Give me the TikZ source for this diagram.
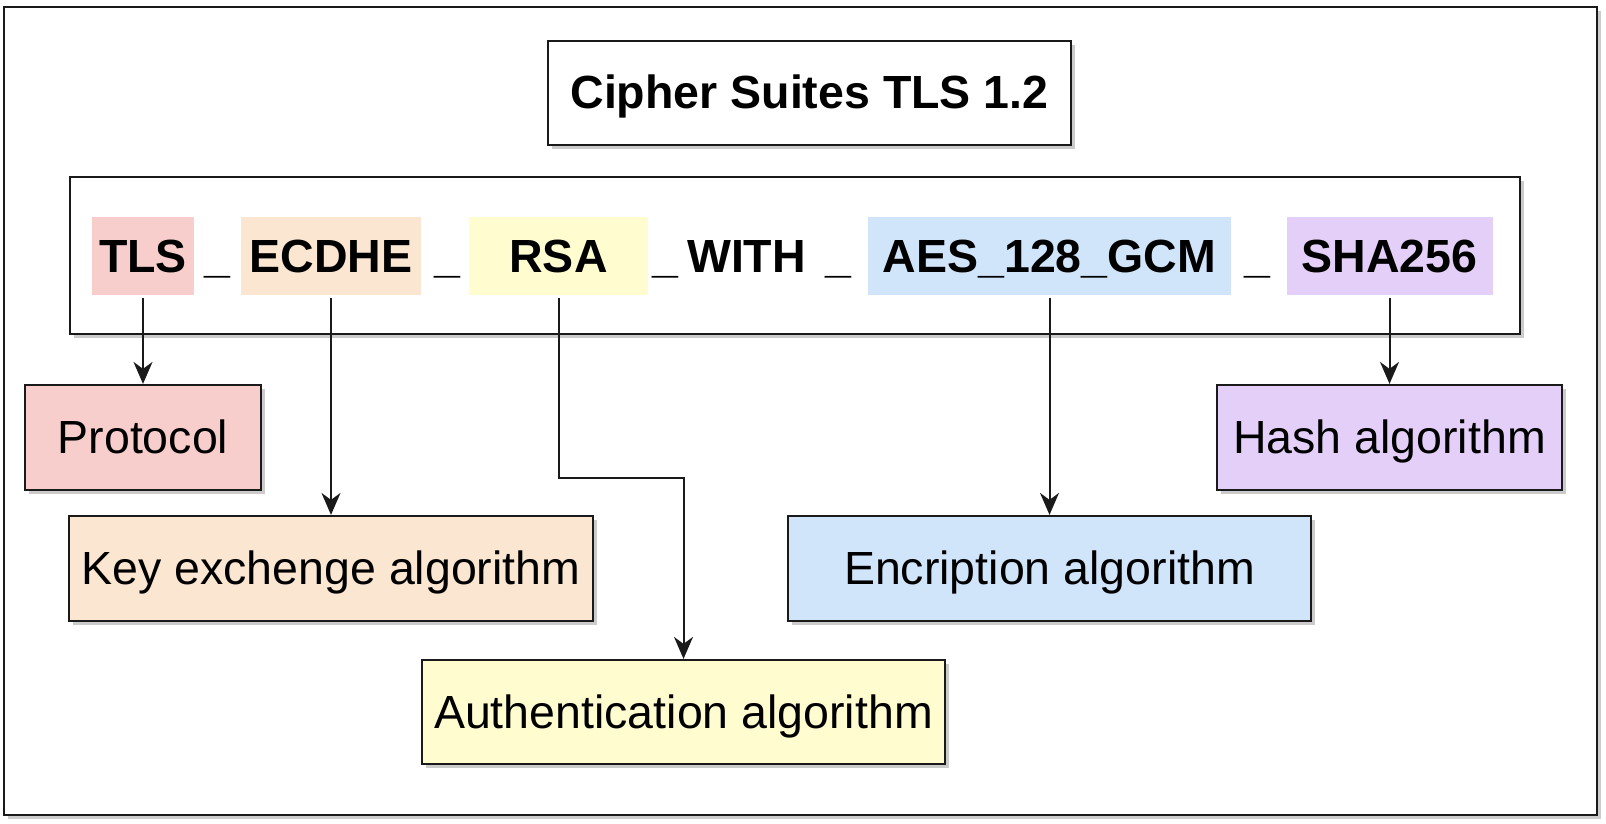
\documentclass[tikz,border=0pt]{standalone}
\usepackage{fontspec}
\setmainfont{Liberation Sans}
\usetikzlibrary{arrows.meta,shadows}
\definecolor{cpink}{HTML}{F8CECC}
\definecolor{cpeach}{HTML}{FBE6D1}
\definecolor{cyellow}{HTML}{FFFDD0}
\definecolor{cblue}{HTML}{D0E4FA}
\definecolor{cpurple}{HTML}{E3CFF7}
\definecolor{cline}{HTML}{1A1A1A}
\begin{document}
\begin{tikzpicture}[x=1pt,y=-1pt,
  shad/.style={drop shadow={shadow xshift=4pt,shadow yshift=-4pt,fill=black!25,opacity=0.8}},
  box/.style={draw=cline,line width=2.2pt,rectangle,inner sep=0pt,align=center,text height=36pt,text depth=4pt,font=\fontsize{46.5}{56}\selectfont,shad},
  hl/.style={rectangle,inner sep=0pt,minimum height=78pt,text height=36pt,text depth=4pt,font=\fontsize{46.5}{56}\selectfont\bfseries},
  sepr/.style={inner sep=0pt,anchor=base,font=\fontsize{46.5}{56}\selectfont\bfseries},
  arr/.style={draw=cline,line width=2pt,-{Stealth[length=22pt,width=19pt,inset=7pt]}},
]
\useasboundingbox (0,0) rectangle (1606,824);
% outer frame
\node[box,fill=white,minimum width=1593pt,minimum height=808pt] (frame) at (800.5,411) {};
% title
\node[box,fill=white,minimum width=523pt,minimum height=104pt,font=\fontsize{46.5}{56}\selectfont\bfseries] (title) at (809.5,93) {Cipher Suites TLS 1.2};
% container
\node[box,fill=white,minimum width=1450pt,minimum height=157pt] (cont) at (795,255.5) {};
% highlighted parts
\node[hl,fill=cpink,minimum width=102pt] (tls) at (143,256) {TLS};
\node[hl,fill=cpeach,minimum width=180pt] (ecdhe) at (331,256) {ECDHE};
\node[hl,fill=cyellow,minimum width=179pt] (rsa) at (558.5,256) {RSA};
\node[hl,fill=cblue,minimum width=363pt] (aes) at (1049.5,256) {AES\_128\_GCM};
\node[hl,fill=cpurple,minimum width=206pt] (sha) at (1389.5,256) {SHA256};
% separators
\node[sepr] (s1) at (217.5,272) {\_};
\node[sepr] (s2) at (447,272) {\_};
\node[sepr] (s3) at (665.5,272) {\_};
\node[sepr] (with) at (746.5,272) {WITH};
\node[sepr] (s4) at (838.5,272) {\_};
\node[sepr] (s5) at (1257,272) {\_};
% meaning boxes
\node[box,fill=cpink,minimum width=236pt,minimum height=105pt] (proto) at (143,437.5) {Protocol};
\node[box,fill=cpeach,minimum width=524pt,minimum height=105pt] (key) at (331,568.5) {Key exchenge algorithm};
\node[box,fill=cyellow,minimum width=523pt,minimum height=104pt] (auth) at (683.5,712) {Authentication algorithm};
\node[box,fill=cblue,minimum width=523pt,minimum height=105pt] (enc) at (1049.5,568.5) {Encription algorithm};
\node[box,fill=cpurple,minimum width=345pt,minimum height=105pt] (hash) at (1389.5,437.5) {Hash algorithm};
% connectors
\coordinate (bend) at (620,478);
\draw[arr,shorten <=3pt] (tls.south) -- (proto.north);
\draw[arr,shorten <=3pt] (ecdhe.south) -- (key.north);
\draw[arr,shorten <=3pt] (rsa.south) |- (bend) -| (auth.north);
\draw[arr,shorten <=3pt] (aes.south) -- (enc.north);
\draw[arr,shorten <=3pt] (sha.south) -- (hash.north);
\end{tikzpicture}
\end{document}
